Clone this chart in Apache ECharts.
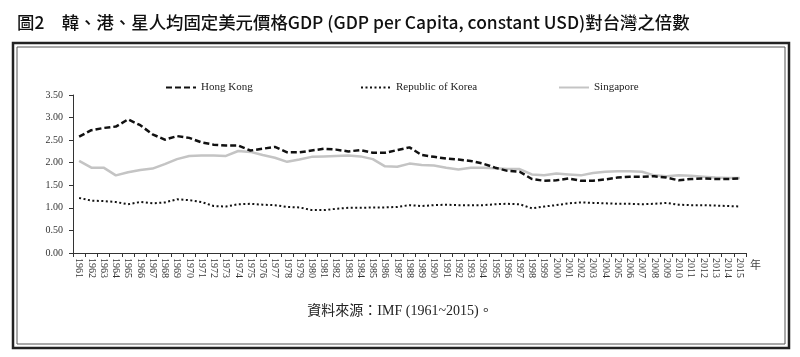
<!DOCTYPE html>
<html><head><meta charset="utf-8">
<script src="https://cdn.jsdelivr.net/npm/echarts@6/dist/echarts.min.js"></script>
<style>html,body{margin:0;padding:0;background:#fff}#c{width:800px;height:357px}</style>
</head><body><div id="c"></div>
<script>
var years = [];
for (var y = 1961; y <= 2015; y++) years.push(String(y));
var hongKong = [2.58,2.72,2.77,2.80,2.96,2.83,2.63,2.51,2.59,2.55,2.45,2.40,2.38,2.38,2.27,2.31,2.35,2.23,2.23,2.27,2.31,2.29,2.25,2.28,2.22,2.22,2.28,2.34,2.17,2.13,2.09,2.07,2.04,1.98,1.89,1.82,1.80,1.64,1.60,1.61,1.65,1.60,1.60,1.63,1.67,1.69,1.69,1.70,1.67,1.61,1.64,1.65,1.64,1.64,1.65];
var korea = [1.22,1.16,1.15,1.13,1.08,1.13,1.10,1.12,1.19,1.17,1.13,1.04,1.03,1.08,1.09,1.07,1.06,1.02,1.01,0.95,0.95,0.98,1.00,1.00,1.01,1.01,1.02,1.06,1.04,1.06,1.07,1.06,1.06,1.06,1.08,1.09,1.08,0.99,1.03,1.06,1.10,1.12,1.11,1.10,1.09,1.09,1.08,1.09,1.11,1.07,1.06,1.06,1.05,1.04,1.03];
var singapore = [2.04,1.89,1.89,1.72,1.79,1.84,1.87,1.97,2.08,2.15,2.16,2.16,2.15,2.26,2.24,2.17,2.11,2.02,2.07,2.13,2.14,2.15,2.16,2.14,2.08,1.92,1.91,1.98,1.95,1.94,1.89,1.85,1.89,1.89,1.88,1.86,1.86,1.74,1.72,1.76,1.74,1.72,1.77,1.80,1.81,1.81,1.80,1.72,1.70,1.72,1.71,1.69,1.67,1.66,1.66];
var seriesNames = ['Hong Kong','Republic of Korea','Singapore'];
var titleText = '圖2　韓、港、星人均固定美元價格GDP (GDP per Capita, constant USD)對台灣之倍數';
var sourceText = '資料來源：IMF (1961~2015)。';

var serif = '"Liberation Serif","Noto Sans CJK TC",serif';
var legendBase = {top:77,itemWidth:30,itemHeight:10,textStyle:{fontFamily:serif,fontSize:11,color:'#222'},itemGap:5,itemStyle:{opacity:0}};
function legendAt(name,left){ var o = JSON.parse(JSON.stringify(legendBase)); o.left = left; o.data = [name]; return o; }
var chart = echarts.init(document.getElementById('c'), null, {renderer:'canvas'});
chart.setOption({
  backgroundColor:'#fff',
  animation:false,
  title:{text:titleText,left:12,top:9,textStyle:{fontFamily:'"Noto Sans CJK TC",sans-serif',fontSize:17.4,fontWeight:500,color:'#111'}},
  graphic:[
    {type:'rect',shape:{x:13,y:43,width:776,height:305},style:{fill:'none',stroke:'#222',lineWidth:2.5},silent:true},
    {type:'rect',shape:{x:17,y:47,width:768,height:297},style:{fill:'none',stroke:'#555',lineWidth:1},silent:true},
    {type:'text',left:'center',top:304,style:{text:sourceText,font:'14px "Liberation Serif","Noto Sans CJK TC",serif',fill:'#222'}}
  ],
  legend:[legendAt(seriesNames[0],160),legendAt(seriesNames[1],355),legendAt(seriesNames[2],553)],
  grid:{left:73,right:54,top:95,bottom:104},
  xAxis:{type:'category',data:years,boundaryGap:true,
    name:'年',nameLocation:'end',nameGap:4,nameTextStyle:{fontFamily:'"Noto Sans CJK TC"',fontSize:11,color:'#444',verticalAlign:'top',padding:[6,0,0,0]},
    axisLine:{lineStyle:{color:'#333',width:1}},
    axisTick:{show:true,alignWithLabel:false,length:4,lineStyle:{color:'#333'}},
    axisLabel:{rotate:-90,interval:0,fontFamily:serif,fontSize:10,color:'#333',margin:5},
    splitLine:{show:false}},
  yAxis:{type:'value',min:0,max:3.5,interval:0.5,
    axisLine:{show:true,lineStyle:{color:'#333'}},
    axisTick:{show:true,length:4,lineStyle:{color:'#333'}},
    axisLabel:{formatter:function(v){return v.toFixed(2);},fontFamily:serif,fontSize:10,color:'#333',margin:10},
    splitLine:{show:false}},
  series:[
    {name:seriesNames[0],type:'line',data:hongKong,symbol:'none',lineStyle:{color:'#111',width:2.5,type:[6,3]},itemStyle:{color:'#111'},z:3},
    {name:seriesNames[1],type:'line',data:korea,symbol:'none',lineStyle:{color:'#111',width:2,type:[2,2.5]},itemStyle:{color:'#111'},z:2},
    {name:seriesNames[2],type:'line',data:singapore,symbol:'none',lineStyle:{color:'#c4c4c4',width:2.5},itemStyle:{color:'#c4c4c4'},z:1}
  ]
});
</script></body></html>
